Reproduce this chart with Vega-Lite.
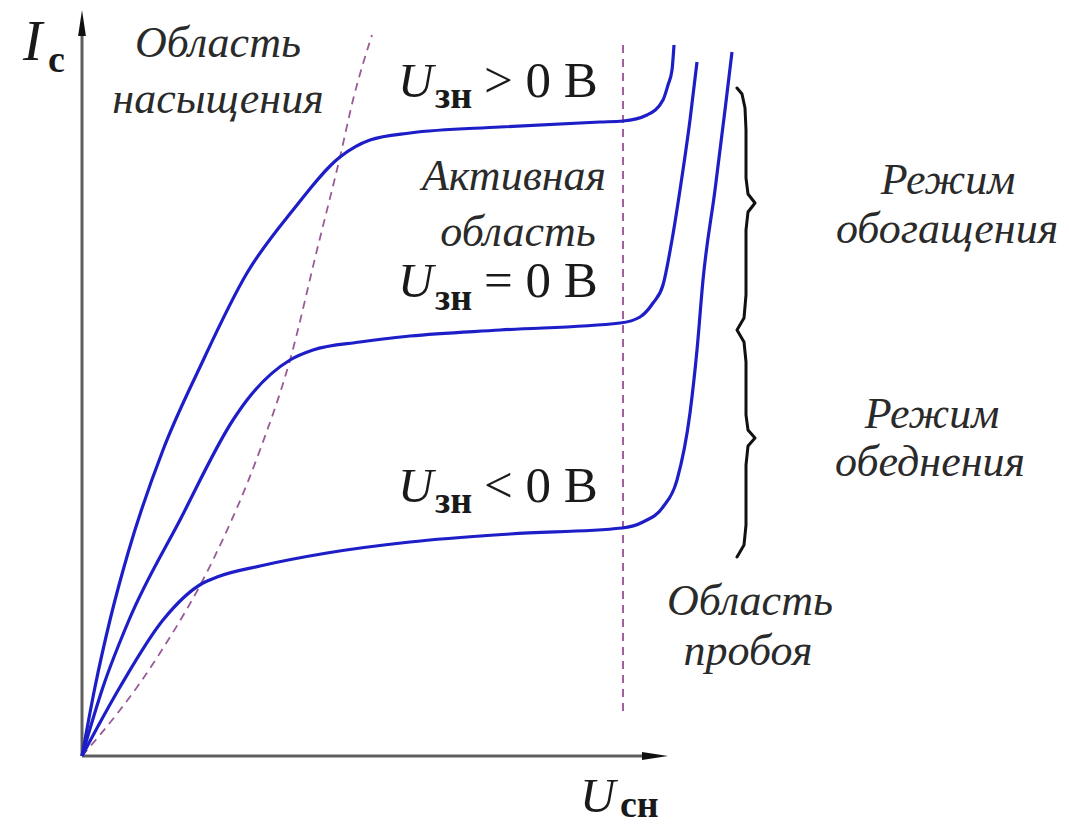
{
  "$schema": "https://vega.github.io/schema/vega-lite/v6.json",
  "width": 1069,
  "height": 827,
  "autosize": {"type": "none"},
  "padding": 0,
  "background": "white",
  "config": {"view": {"stroke": null}},
  "encoding": {
    "x": {"field": "x", "type": "quantitative", "scale": {"domain": [-82, 987], "nice": false, "zero": false}, "axis": null},
    "y": {"field": "y", "type": "quantitative", "scale": {"domain": [-71, 756], "nice": false, "zero": false}, "axis": null}
  },
  "layer": [
    {
      "data": {"values": [
        {"x": 0, "y": 0, "x2": 0, "y2": 728},
        {"x": 0, "y": 0, "x2": 572, "y2": 0}
      ]},
      "mark": {"type": "rule", "color": "#5e5e5e", "strokeWidth": 3},
      "encoding": {"x2": {"field": "x2"}, "y2": {"field": "y2"}}
    },
    {
      "data": {"values": [{"x": 0, "y": 733}]},
      "mark": {"type": "point", "shape": "M-0.3,1L0,-1L0.3,1Z", "size": 676, "filled": true, "color": "#111111", "opacity": 1}
    },
    {
      "data": {"values": [{"x": 573, "y": 0}]},
      "mark": {"type": "point", "shape": "M-1,-0.3L1,0L-1,0.3Z", "size": 676, "filled": true, "color": "#111111", "opacity": 1}
    },
    {
      "data": {"values": [
        {"x": 0, "y": 0, "o": 0},
        {"x": 38, "y": 46, "o": 1},
        {"x": 58, "y": 73, "o": 2},
        {"x": 78, "y": 103, "o": 3},
        {"x": 131, "y": 196, "o": 4},
        {"x": 178, "y": 306, "o": 5},
        {"x": 208, "y": 396, "o": 6},
        {"x": 235, "y": 506, "o": 7},
        {"x": 258, "y": 599, "o": 8},
        {"x": 271, "y": 656, "o": 9},
        {"x": 290, "y": 721, "o": 10}
      ]},
      "mark": {"type": "line", "color": "#9a5a96", "strokeWidth": 1.8, "strokeDash": [8, 6], "interpolate": "monotone"},
      "encoding": {"order": {"field": "o"}}
    },
    {
      "data": {"values": [{"x": 541, "y": 711, "x2": 541, "y2": 41}]},
      "mark": {"type": "rule", "color": "#9a4f96", "strokeWidth": 1.8, "strokeDash": [8, 6]},
      "encoding": {"x2": {"field": "x2"}, "y2": {"field": "y2"}}
    },
    {
      "data": {"values": [
        {"s": "gt", "x": 0, "y": 0},
        {"s": "gt", "x": 13, "y": 69},
        {"s": "gt", "x": 28, "y": 136},
        {"s": "gt", "x": 46, "y": 203},
        {"s": "gt", "x": 81, "y": 306},
        {"s": "gt", "x": 118, "y": 389},
        {"s": "gt", "x": 165, "y": 483},
        {"s": "gt", "x": 211, "y": 546},
        {"s": "gt", "x": 258, "y": 599},
        {"s": "gt", "x": 288, "y": 616},
        {"s": "gt", "x": 328, "y": 623},
        {"s": "gt", "x": 418, "y": 629},
        {"s": "gt", "x": 518, "y": 634},
        {"s": "gt", "x": 541, "y": 635},
        {"s": "gt", "x": 565, "y": 641},
        {"s": "gt", "x": 581, "y": 656},
        {"s": "gt", "x": 586, "y": 671},
        {"s": "gt", "x": 590, "y": 686},
        {"s": "gt", "x": 592, "y": 711},
        {"s": "eq", "x": 0, "y": 0},
        {"s": "eq", "x": 21, "y": 69},
        {"s": "eq", "x": 47, "y": 136},
        {"s": "eq", "x": 98, "y": 236},
        {"s": "eq", "x": 151, "y": 336},
        {"s": "eq", "x": 165, "y": 356},
        {"s": "eq", "x": 208, "y": 396},
        {"s": "eq", "x": 231, "y": 406},
        {"s": "eq", "x": 278, "y": 414},
        {"s": "eq", "x": 328, "y": 420},
        {"s": "eq", "x": 418, "y": 426},
        {"s": "eq", "x": 538, "y": 433},
        {"s": "eq", "x": 558, "y": 439},
        {"s": "eq", "x": 571, "y": 453},
        {"s": "eq", "x": 581, "y": 471},
        {"s": "eq", "x": 590, "y": 516},
        {"s": "eq", "x": 598, "y": 566},
        {"s": "eq", "x": 608, "y": 636},
        {"s": "eq", "x": 615, "y": 694},
        {"s": "lt", "x": 0, "y": 0},
        {"s": "lt", "x": 38, "y": 69},
        {"s": "lt", "x": 81, "y": 136},
        {"s": "lt", "x": 121, "y": 173},
        {"s": "lt", "x": 135, "y": 179},
        {"s": "lt", "x": 178, "y": 190},
        {"s": "lt", "x": 245, "y": 203},
        {"s": "lt", "x": 328, "y": 214},
        {"s": "lt", "x": 428, "y": 222},
        {"s": "lt", "x": 540, "y": 228},
        {"s": "lt", "x": 561, "y": 234},
        {"s": "lt", "x": 581, "y": 249},
        {"s": "lt", "x": 595, "y": 276},
        {"s": "lt", "x": 608, "y": 343},
        {"s": "lt", "x": 615, "y": 406},
        {"s": "lt", "x": 621, "y": 476},
        {"s": "lt", "x": 633, "y": 566},
        {"s": "lt", "x": 643, "y": 646},
        {"s": "lt", "x": 650, "y": 704}
      ]},
      "mark": {"type": "line", "color": "#1e1ec8", "strokeWidth": 3.2, "interpolate": "monotone"},
      "encoding": {"detail": {"field": "s"}}
    },
    {
      "data": {"values": [
        {"o": 0, "x": 655, "y": 668},
        {"o": 1, "x": 660, "y": 662},
        {"o": 2, "x": 663, "y": 648},
        {"o": 3, "x": 664, "y": 626},
        {"o": 4, "x": 664, "y": 578},
        {"o": 5, "x": 666, "y": 562},
        {"o": 6, "x": 673, "y": 553},
        {"o": 7, "x": 666, "y": 544},
        {"o": 8, "x": 664, "y": 526},
        {"o": 9, "x": 664, "y": 461},
        {"o": 10, "x": 662, "y": 438},
        {"o": 11, "x": 655, "y": 426},
        {"o": 12, "x": 662, "y": 414},
        {"o": 13, "x": 664, "y": 394},
        {"o": 14, "x": 664, "y": 341},
        {"o": 15, "x": 666, "y": 326},
        {"o": 16, "x": 673, "y": 318},
        {"o": 17, "x": 666, "y": 310},
        {"o": 18, "x": 664, "y": 291},
        {"o": 19, "x": 664, "y": 231},
        {"o": 20, "x": 662, "y": 211},
        {"o": 21, "x": 655, "y": 199}
      ]},
      "mark": {"type": "line", "color": "#111111", "strokeWidth": 3, "interpolate": "linear", "strokeJoin": "round", "strokeCap": "round"},
      "encoding": {"order": {"field": "o"}}
    },
    {
      "data": {"values": [
        {"x": 136, "y": 699, "t": "Область"},
        {"x": 136, "y": 643, "t": "насыщения"},
        {"x": 432, "y": 566, "t": "Активная"},
        {"x": 436, "y": 510, "t": "область"},
        {"x": 866, "y": 562, "t": "Режим"},
        {"x": 865, "y": 513, "t": "обогащения"},
        {"x": 850, "y": 328, "t": "Режим"},
        {"x": 848, "y": 280, "t": "обеднения"},
        {"x": 668, "y": 141, "t": "Область"},
        {"x": 666, "y": 91, "t": "пробоя"}
      ]},
      "mark": {"type": "text", "font": "Liberation Serif", "fontStyle": "italic", "fontSize": 44, "align": "center", "baseline": "alphabetic", "color": "#2a2a2a"},
      "encoding": {"text": {"field": "t"}}
    },
    {
      "data": {"values": [
        {"x": 316, "y": 659, "t": "U"},
        {"x": 316, "y": 459, "t": "U"},
        {"x": 316, "y": 254, "t": "U"},
        {"x": 498, "y": -56, "t": "U"}
      ]},
      "mark": {"type": "text", "font": "Liberation Serif", "fontStyle": "italic", "fontSize": 49, "align": "left", "baseline": "alphabetic", "color": "#1a1a1a"},
      "encoding": {"text": {"field": "t"}}
    },
    {
      "data": {"values": [{"x": -59, "y": 696, "t": "I"}]},
      "mark": {"type": "text", "font": "Liberation Serif", "fontStyle": "italic", "fontSize": 58, "align": "left", "baseline": "alphabetic", "color": "#1a1a1a"},
      "encoding": {"text": {"field": "t"}}
    },
    {
      "data": {"values": [
        {"x": 353, "y": 648, "t": "зн"},
        {"x": 353, "y": 446, "t": "зн"},
        {"x": 353, "y": 243, "t": "зн"},
        {"x": 538, "y": -61, "t": "сн"},
        {"x": -34, "y": 684, "t": "с"}
      ]},
      "mark": {"type": "text", "font": "Liberation Serif", "fontWeight": "bold", "fontSize": 38, "align": "left", "baseline": "alphabetic", "color": "#1a1a1a"},
      "encoding": {"text": {"field": "t"}}
    },
    {
      "data": {"values": [
        {"x": 402, "y": 659, "t": "> 0 В"},
        {"x": 402, "y": 459, "t": "= 0 В"},
        {"x": 402, "y": 254, "t": "< 0 В"}
      ]},
      "mark": {"type": "text", "font": "Liberation Serif", "fontSize": 51, "align": "left", "baseline": "alphabetic", "color": "#1a1a1a"},
      "encoding": {"text": {"field": "t"}}
    }
  ]
}
